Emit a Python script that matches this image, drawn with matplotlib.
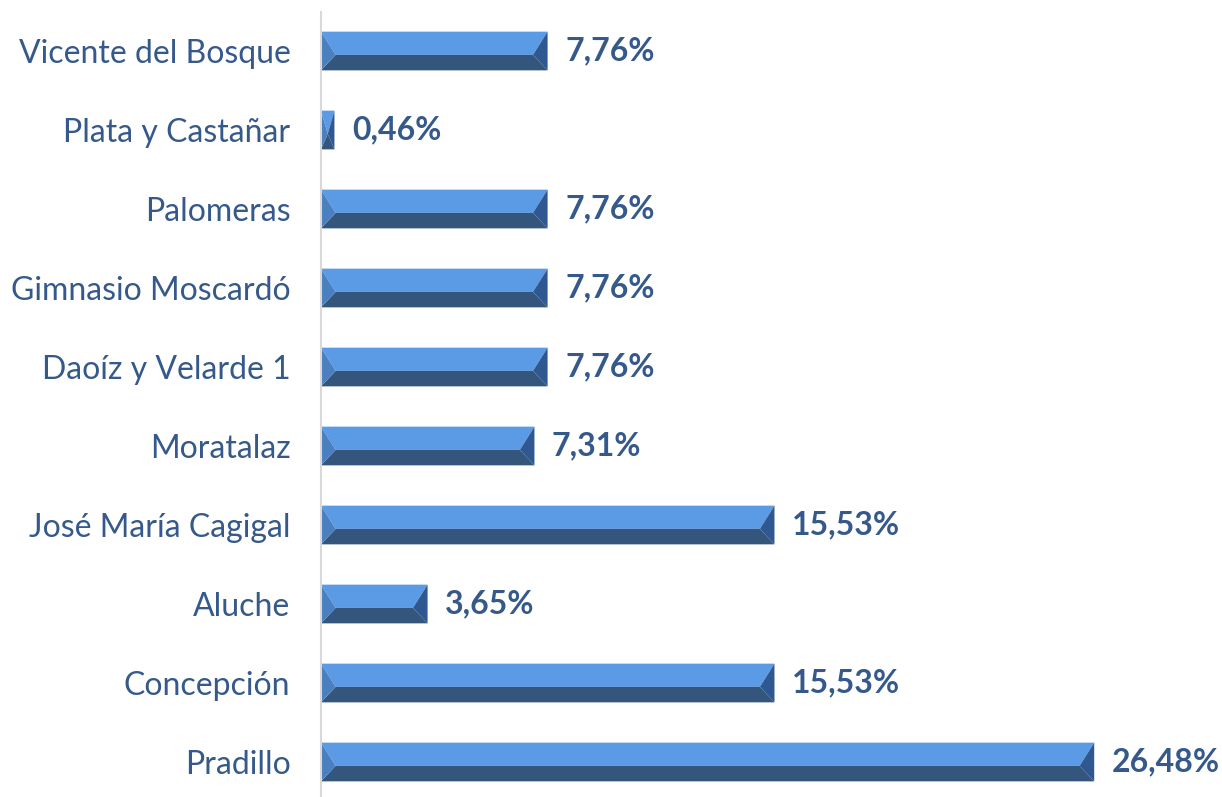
import matplotlib.pyplot as plt
from matplotlib.patches import Polygon

plt.rcParams['font.family'] = ['Lato', 'DejaVu Sans']

centros = ["Pradillo", "Concepción", "Aluche", "José María Cagigal", "Moratalaz",
           "Daoíz y Velarde 1", "Gimnasio Moscardó", "Palomeras",
           "Plata y Castañar", "Vicente del Bosque"]
porcentajes = [26.48, 15.53, 3.65, 15.53, 7.31, 7.76, 7.76, 7.76, 0.46, 7.76]
etiquetas = ["26,48%", "15,53%", "3,65%", "15,53%", "7,31%",
             "7,76%", "7,76%", "7,76%", "0,46%", "7,76%"]

c_top = "#5B9BE6"
c_bot = "#34567D"
c_left = "#4A80C0"
c_right = "#2F5890"
c_text = "#35598A"

fig = plt.figure(figsize=(12.22, 7.97), dpi=100)
ax = fig.add_axes([321 / 1222, 0, 1 - 321 / 1222, 1 - 11.5 / 797])

h = 0.49
bev = 0.5
for i, v in enumerate(porcentajes):
    top = i + h / 2
    bot = i - h / 2
    mid = top - 0.6 * h
    b = min(bev, v / 2)
    x0, x1 = 0.0, v
    ax.add_patch(Polygon([(x0, top), (x1, top), (x1 - b, mid), (x0 + b, mid)],
                         closed=True, facecolor=c_top, edgecolor="none"))
    ax.add_patch(Polygon([(x0, bot), (x0 + b, mid), (x1 - b, mid), (x1, bot)],
                         closed=True, facecolor=c_bot, edgecolor="none"))
    ax.add_patch(Polygon([(x0, top), (x0 + b, mid), (x0, bot)],
                         closed=True, facecolor=c_left, edgecolor="none"))
    ax.add_patch(Polygon([(x1, top), (x1 - b, mid), (x1, bot)],
                         closed=True, facecolor=c_right, edgecolor="none"))
    ax.text(v + 0.6, i, etiquetas[i], va="center", ha="left",
            fontsize=23, fontweight="bold", color=c_text)

ax.set_xlim(0, (1222 - 321) / 29.2)
ax.set_ylim(9.5 - (797 - 11.5) / 79, 9.5)
ax.set_yticks(range(len(centros)))
ax.set_yticklabels(centros, fontsize=23, color=c_text)
ax.tick_params(axis="y", length=0, pad=22)
ax.set_xticks([])
for s in ["top", "right", "bottom"]:
    ax.spines[s].set_visible(False)
ax.spines["left"].set_color("#D9D9D9")
ax.spines["left"].set_linewidth(1.5)

fig.savefig("out.png", dpi=100)
